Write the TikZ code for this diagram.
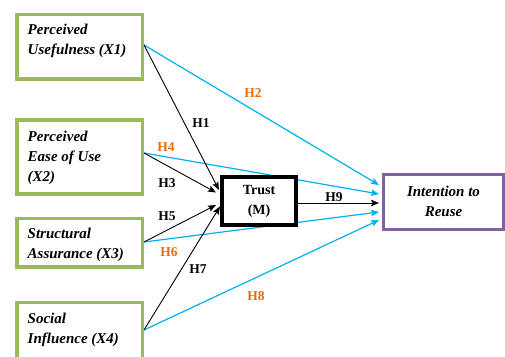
\documentclass[tikz,border=0pt]{standalone}
\usepackage{fontspec}
\setmainfont{Liberation Serif}
\usetikzlibrary{arrows.meta,backgrounds}
\definecolor{boxgreen}{HTML}{9BBB59}
\definecolor{boxpurple}{HTML}{8064A2}
\definecolor{lineblue}{HTML}{00B0F0}
\definecolor{laborange}{HTML}{E46C0A}
\begin{document}
\begin{tikzpicture}[x=1pt,y=-1pt,
  gbox/.style={draw=boxgreen,line width=3.5pt,fill=white,minimum width=125.5pt,inner sep=0pt},
  btxt/.style={font=\fontsize{15}{20}\selectfont\bfseries\itshape,align=left,inner sep=0pt,anchor=north west},
  hlab/.style={font=\fontsize{13.5}{16}\selectfont\bfseries,inner sep=0pt},
  olab/.style={hlab,text=laborange},
  kline/.style={draw=black,line width=0.9pt,-{Stealth[length=8pt,width=6.5pt,inset=1.5pt]}},
  bline/.style={draw=lineblue,line width=1.2pt,-{Stealth[length=8pt,width=6.5pt,inset=1.5pt]}}
]
\useasboundingbox (0,0) rectangle (505,356);
% boxes
\node[gbox,minimum height=64.5pt] (x1) at (79.5,46.75) {};
\node[gbox,minimum height=74.2pt] (x2) at (79.5,157) {};
\node[gbox,minimum height=48.5pt] (x3) at (79.5,242.7) {};
\node[gbox,minimum height=60pt] (x4) at (79.5,332.5) {};
\node[draw=black,line width=4.5pt,fill=white,minimum width=73.75pt,minimum height=47.75pt,inner sep=0pt,
      font=\fontsize{14}{20}\selectfont\bfseries,align=center] (trust) at (259.1,201.1) {Trust\\(M)};
\node[draw=boxpurple,line width=3pt,fill=white,minimum width=120pt,minimum height=55pt,inner sep=0pt,
      font=\fontsize{15}{20}\selectfont\bfseries\itshape,align=center] (intent) at (443.5,201.7) {Intention to\\Reuse};
% box texts
\node[btxt] (x1t) at (27.5,24.3) {Perceived\\Usefulness (X1)};
\node[btxt] (x2t) at (27.5,130.8) {Perceived\\Ease of Use\\(X2)};
\node[btxt] (x3t) at (27.5,227.5) {Structural\\Assurance (X3)};
\node[btxt] (x4t) at (27.5,312.8) {Social\\Influence (X4)};
% connector ends
\coordinate (s1) at ([yshift=1.75pt]x1.east);
\coordinate (s2) at ([yshift=4pt]x2.east);
\coordinate (s3) at ([yshift=0.7pt]x3.east);
\coordinate (s4) at ([yshift=2.5pt]x4.east);
\coordinate (t1) at (219,190);
\coordinate (t2) at (216,192.5);
\coordinate (t3) at (216,205);
\coordinate (t4) at (220,206.5);
\coordinate (i1) at (379,185);
\coordinate (i2) at (379,194);
\coordinate (i3) at (379,203);
\coordinate (i4) at (379,212);
\coordinate (i5) at (379,220);
\begin{pgfonlayer}{background}
\draw[bline] (s1) -- (i1);
\draw[bline] (s2) -- (i2);
\draw[bline] (s3) -- (i4);
\draw[bline] (s4) -- (i5);
\draw[kline] (s1) -- (t1);
\draw[kline] (s2) -- (t2);
\draw[kline] (s3) -- (t3);
\draw[kline] (s4) -- (t4);
\draw[kline] (trust.east |- i3) -- (i3);
\end{pgfonlayer}
% labels
\node[hlab] (h1) at (201,123) {H1};
\node[olab] (h2) at (253,93) {H2};
\node[hlab] (h3) at (167,183) {H3};
\node[olab] (h4) at (166,147) {H4};
\node[hlab] (h5) at (167,216) {H5};
\node[olab] (h6) at (169,252) {H6};
\node[hlab] (h7) at (198,269) {H7};
\node[olab] (h8) at (256,296) {H8};
\node[hlab] (h9) at (334,197) {H9};
\end{tikzpicture}
\end{document}
